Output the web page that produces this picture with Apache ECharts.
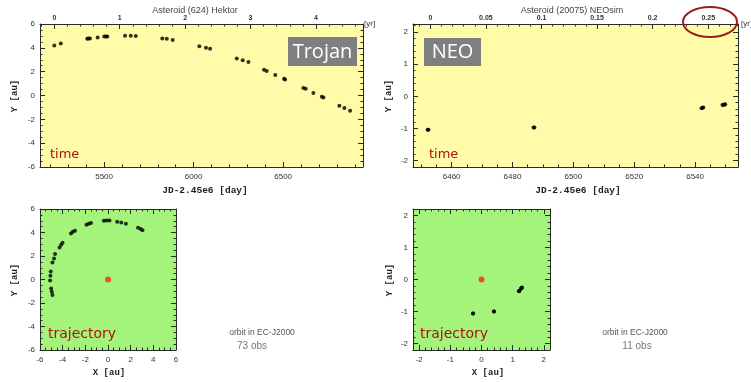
<!DOCTYPE html>
<html><head><meta charset="utf-8">
<script src="https://cdn.jsdelivr.net/npm/echarts@6/dist/echarts.min.js"></script>
<style>html,body{margin:0;padding:0;background:#fff}#c{width:751px;height:382px}</style>
</head><body><div id="c"></div>
<script>
// ---------- data ----------
const trojanDay = [5222,5258,5406,5412,5421,5464,5501,5511,5518,5617,5649,5677,5825,5850,5883,6032,6069,6092,6241,6274,6306,6393,6408,6456,6505,6511,6613,6626,6669,6716,6725,6814,6842,6874];
const trojanY   = [4.20,4.37,4.76,4.79,4.79,4.87,4.96,4.96,4.96,5.01,5.01,5.00,4.79,4.76,4.65,4.14,4.00,3.92,3.10,2.96,2.82,2.17,2.06,1.72,1.41,1.35,0.62,0.56,0.20,-0.11,-0.17,-0.85,-1.04,-1.27];
const trojanOrbX = [3.04,2.89,2.65,1.58,1.17,0.81,0.13,-0.13,-0.37,-1.5,-1.7,-1.9,-2.92,-3.1,-3.27,-4.01,-4.13,-4.28,-4.67,-4.76,-4.9,-5.05,-5.08,-5.11,-5.02,-4.96,-4.9];
const trojanOrbY = [4.20,4.29,4.40,4.74,4.86,4.91,5.03,5.03,5.0,4.8,4.74,4.66,4.15,4.06,3.92,3.13,2.95,2.73,2.16,1.79,1.45,0.68,0.31,-0.09,-0.77,-1.05,-1.31];
const neoDay = [6452.1,6452.4,6486.9,6487.2,6542.1,6542.4,6542.7,6549.0,6549.3,6549.6,6549.9];
const neoY   = [-1.04,-1.04,-0.97,-0.97,-0.37,-0.36,-0.35,-0.27,-0.26,-0.26,-0.25];
const neoOrbX = [-0.27,-0.27,0.40,0.40,1.20,1.21,1.22,1.27,1.28,1.29,1.30];
const neoOrbY = [-1.06,-1.06,-1.00,-1.00,-0.37,-0.36,-0.35,-0.28,-0.27,-0.26,-0.25];
const sunXY = [0, 0];

const trojanDayTicks = [5500, 6000, 6500];
const trojanYrTicks  = [0, 1, 2, 3, 4];
const trojanYTicks   = [-6, -4, -2, 0, 2, 4, 6];
const neoDayTicks = [6460, 6480, 6500, 6520, 6540];
const neoYrTicks  = [0, 0.05, 0.1, 0.15, 0.2, 0.25];
const neoYTicks   = [-2, -1, 0, 1, 2];
const trojanOrbTicks = [-6, -4, -2, 0, 2, 4, 6];
const neoOrbTicks = [-2, -1, 0, 1, 2];

const trojanYr0 = 5222, neoYr0 = 6453, daysPerYr = 365.25;

// ---------- helpers ----------
const xAxes = [], yAxes = [];
function seq(min, max, step){
  const out = []; let v = Math.ceil(min/step - 1e-9)*step;
  for(; v <= max + 1e-9; v += step) out.push(+v.toFixed(6));
  return out;
}
function addAxis(list, grid, pos, min, max, labels, minorStep, opt){
  opt = opt || {};
  const base = {type:'value', gridIndex:grid, position:pos, min:min, max:max, splitLine:{show:false}};
  const major = Object.assign({}, base, {
    axisLine:{show:true, onZero:false, lineStyle:{color:'#2a2a2a', width:1}},
    axisTick:{show:true, inside:true, length:5, customValues:labels, lineStyle:{color:'#2a2a2a'}},
    axisLabel:{show:!!opt.showLabel, customValues:labels, formatter:(v)=>String(+(+v).toFixed(4)), fontSize:opt.fs||8, color:'#333', fontFamily:'Liberation Sans', fontWeight:opt.fw||'normal', margin:opt.margin||5}
  });
  list.push(major);
  const idx = list.length - 1;
  list.push(Object.assign({}, base, {
    axisLine:{show:false, onZero:false},
    axisTick:{show:true, inside:true, length:2.5, customValues:seq(min,max,minorStep), lineStyle:{color:'#2a2a2a'}},
    axisLabel:{show:false}
  }));
  return idx;
}

const grids = [
  {left:40, top:24, width:323, height:143, show:true, backgroundColor:'#fffba8', borderWidth:0},
  {left:413, top:24, width:325, height:143, show:true, backgroundColor:'#fffba8', borderWidth:0},
  {left:40, top:209, width:136, height:141, show:true, backgroundColor:'#a4f47c', borderWidth:0},
  {left:413, top:209, width:137, height:141, show:true, backgroundColor:'#a4f47c', borderWidth:0}
];

// panel 0: Trojan time
const tMin = 5142, tMax = 6946;
const x0 = addAxis(xAxes, 0, 'bottom', tMin, tMax, trojanDayTicks, 100, {showLabel:true, margin:6});
addAxis(xAxes, 0, 'top', (tMin-trojanYr0)/daysPerYr, (tMax-trojanYr0)/daysPerYr, trojanYrTicks, 0.2, {showLabel:true, fs:7, fw:'bold', margin:2});
const y0 = addAxis(yAxes, 0, 'left', -6, 6, trojanYTicks, 0.5, {showLabel:true});
addAxis(yAxes, 0, 'right', -6, 6, trojanYTicks, 0.5, {});
// panel 1: NEO time
const nMin = 6447.3, nMax = 6554.1;
const x1 = addAxis(xAxes, 1, 'bottom', nMin, nMax, neoDayTicks, 5, {showLabel:true, margin:6});
addAxis(xAxes, 1, 'top', (nMin-neoYr0)/daysPerYr, (nMax-neoYr0)/daysPerYr, neoYrTicks, 0.01, {showLabel:true, fs:7, fw:'bold', margin:2});
const y1 = addAxis(yAxes, 1, 'left', -2.2, 2.25, neoYTicks, 0.2, {showLabel:true});
addAxis(yAxes, 1, 'right', -2.2, 2.25, neoYTicks, 0.2, {});
// panel 2: Trojan trajectory
const x2 = addAxis(xAxes, 2, 'bottom', -6, 6, trojanOrbTicks, 0.5, {showLabel:true, margin:6});
addAxis(xAxes, 2, 'top', -6, 6, trojanOrbTicks, 0.5, {});
const y2 = addAxis(yAxes, 2, 'left', -6, 6, trojanOrbTicks, 0.5, {showLabel:true});
addAxis(yAxes, 2, 'right', -6, 6, trojanOrbTicks, 0.5, {});
// panel 3: NEO trajectory
const x3 = addAxis(xAxes, 3, 'bottom', -2.2, 2.2, neoOrbTicks, 0.2, {showLabel:true, margin:6});
addAxis(xAxes, 3, 'top', -2.2, 2.2, neoOrbTicks, 0.2, {});
const y3 = addAxis(yAxes, 3, 'left', -2.2, 2.2, neoOrbTicks, 0.2, {showLabel:true});
addAxis(yAxes, 3, 'right', -2.2, 2.2, neoOrbTicks, 0.2, {});

function pts(a, b){ return a.map((v,i)=>[v, b[i]]); }
const dot = {type:'scatter', symbol:'circle', symbolSize:4, itemStyle:{color:'#000'}, silent:true, animation:false};
const series = [
  Object.assign({}, dot, {xAxisIndex:x0, yAxisIndex:y0, data:pts(trojanDay, trojanY)}),
  Object.assign({}, dot, {xAxisIndex:x1, yAxisIndex:y1, data:pts(neoDay, neoY)}),
  Object.assign({}, dot, {xAxisIndex:x2, yAxisIndex:y2, data:pts(trojanOrbX, trojanOrbY)}),
  Object.assign({}, dot, {xAxisIndex:x3, yAxisIndex:y3, data:pts(neoOrbX, neoOrbY)}),
  Object.assign({}, dot, {xAxisIndex:x2, yAxisIndex:y2, symbolSize:6, itemStyle:{color:'#ff2a00'}, data:[sunXY]}),
  Object.assign({}, dot, {xAxisIndex:x3, yAxisIndex:y3, symbolSize:6, itemStyle:{color:'#ff2a00'}, data:[sunXY]})
];

function txt(x, y, text, o){
  o = o || {};
  return {type:'text', x:x, y:y, rotation:o.rot||0, z:10, silent:true, style:{
    text:text, fill:o.color||'#333', fontSize:o.fs||9, fontFamily:o.ff||'Liberation Sans',
    fontWeight:o.fw||'normal', textAlign:o.align||'center', textVerticalAlign:'middle'}};
}
const mono = 'Liberation Mono';
const red = '#ad1010';
const graphic = [
  txt(195, 11, 'Asteroid (624) Hektor', {fs:9, color:'#444'}),
  txt(572, 11, 'Asteroid (20075) NEOsim', {fs:9, color:'#444'}),
  txt(364, 24, '[yr]', {fs:8, align:'left', color:'#333'}),
  txt(741, 24, '[yr]', {fs:8, align:'left', color:'#333'}),
  txt(205, 191, 'JD-2.45e6 [day]', {fs:9.5, fw:'bold', ff:mono, color:'#222'}),
  txt(578, 191, 'JD-2.45e6 [day]', {fs:9.5, fw:'bold', ff:mono, color:'#222'}),
  txt(15, 96, 'Y [au]', {fs:9, fw:'bold', ff:mono, color:'#222', rot:Math.PI/2}),
  txt(389, 96, 'Y [au]', {fs:9, fw:'bold', ff:mono, color:'#222', rot:Math.PI/2}),
  txt(15, 280, 'Y [au]', {fs:9, fw:'bold', ff:mono, color:'#222', rot:Math.PI/2}),
  txt(390, 280, 'Y [au]', {fs:9, fw:'bold', ff:mono, color:'#222', rot:Math.PI/2}),
  txt(109, 373, 'X [au]', {fs:9, fw:'bold', ff:mono, color:'#222'}),
  txt(488, 373, 'X [au]', {fs:9, fw:'bold', ff:mono, color:'#222'}),
  txt(50, 155, 'time', {fs:13, align:'left', color:red, ff:'DejaVu Sans'}),
  txt(429, 155, 'time', {fs:13, align:'left', color:red, ff:'DejaVu Sans'}),
  txt(48, 334, 'trajectory', {fs:14, align:'left', color:red, ff:'DejaVu Sans'}),
  txt(420, 334, 'trajectory', {fs:14, align:'left', color:red, ff:'DejaVu Sans'}),
  txt(262, 333, 'orbit in EC-J2000', {fs:8.5, color:'#555'}),
  txt(252, 346, '73 obs', {fs:10, color:'#777'}),
  txt(635, 333, 'orbit in EC-J2000', {fs:8.5, color:'#555'}),
  txt(637, 346, '11 obs', {fs:10, color:'#777'}),
  {type:'rect', z:9, silent:true, shape:{x:288, y:37, width:69, height:29}, style:{fill:'#7f7f7f'}},
  txt(322.5, 52, 'Trojan', {fs:20, color:'#fff', ff:'Open Sans'}),
  {type:'rect', z:9, silent:true, shape:{x:424, y:38, width:57, height:28}, style:{fill:'#7f7f7f'}},
  txt(452.5, 52.5, 'NEO', {fs:20, color:'#fff', ff:'Open Sans'}),
  {type:'ellipse', z:11, silent:true, shape:{cx:710, cy:22, rx:27, ry:15}, style:{fill:'none', stroke:'#9a1c1c', lineWidth:2}}
];

const chart = echarts.init(document.getElementById('c'), null, {renderer:'canvas'});
chart.setOption({animation:false, backgroundColor:'#fff', grid:grids, xAxis:xAxes, yAxis:yAxes, series:series, graphic:graphic});
</script></body></html>
